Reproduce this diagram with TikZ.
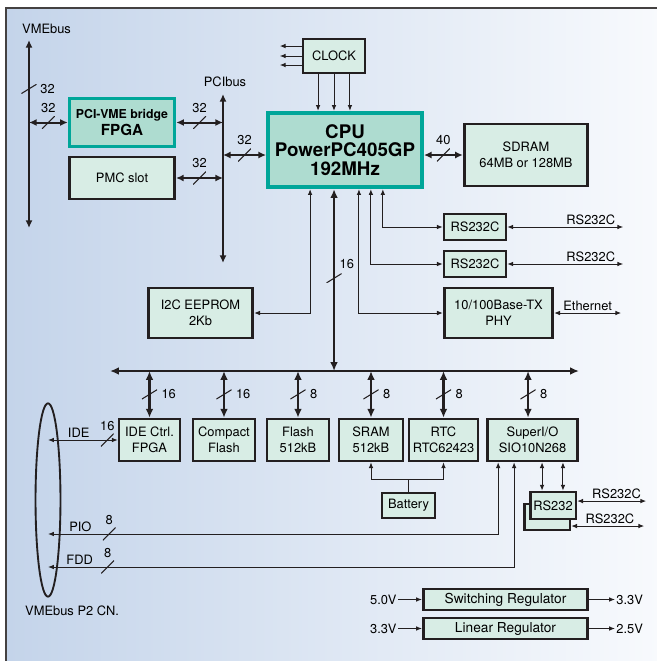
\documentclass[tikz,border=0pt]{standalone}
\usepackage{fontspec}
\setmainfont{TeX Gyre Heros}
\usetikzlibrary{positioning,arrows.meta,shapes.geometric}

\definecolor{ink}{RGB}{35,31,32}
\definecolor{tealline}{RGB}{0,166,153}
\definecolor{chipfill}{RGB}{174,220,208}
\definecolor{boxfill}{RGB}{216,237,229}
\definecolor{bgleft}{RGB}{196,212,234}
\definecolor{bgright}{RGB}{248,250,253}

\tikzstyle{block} = [draw=ink, line width=2.3pt, fill=boxfill, rectangle, inner sep=1pt, align=center]
\tikzstyle{chip} = [block, draw=tealline, fill=chipfill]
\tikzstyle{bus} = [draw=ink, line width=2.3pt, >={Latex[length=7.5pt,width=6.5pt]}]
\tikzstyle{link} = [draw=ink, line width=1.7pt, >={Latex[length=6.5pt,width=6pt]}]
\tikzstyle{wire} = [draw=ink, line width=0.85pt, >={Latex[length=5pt,width=4pt]}]
\tikzstyle{hslash} = [inner sep=0pt, minimum width=11pt, minimum height=11pt, path picture={\draw[-, ink, line width=0.9pt] (path picture bounding box.south west) -- (path picture bounding box.north east);}]
\tikzstyle{vslash} = [hslash, minimum width=13pt, minimum height=8pt]
\tikzstyle{lbl} = [inner sep=1.5pt]

\begin{document}
\begin{tikzpicture}[x=0.03cm, y=-0.03cm, every node/.style={font=\fontsize{11}{13.3}\selectfont}]
        \clip (0,0) rectangle (657,661);
        \fill[white] (0,0) rectangle (657,661);
        \shade[left color=bgleft, right color=bgright] (6,8) rectangle (660,665);
        \draw[draw=ink!85, line width=2.4pt] (6,670) -- (6,8) -- (670,8);

        % bus ends
        \coordinate (vmetop) at (29,40);
        \coordinate (vmebot) at (29,228);
        \coordinate (pcitop) at (223,94);
        \coordinate (pcibot) at (223,263);
        \coordinate (lbusl) at (110,371);
        \coordinate (lbusr) at (579,371);
        \coordinate (pio) at (48,534);
        \coordinate (fdd) at (48,567);

        \node [anchor=base west, inner sep=0pt] (vmelbl) at (22,33) {VMEbus};
        \node [anchor=base, inner sep=0pt] (pcilbl) at (225,86) {PCIbus};

        % upper blocks
        \node [block, minimum width=52.7pt, minimum height=29pt] (clock) at (334,56) {CLOCK};
        \node [chip, line width=3.8pt, minimum width=131pt, minimum height=63pt, font=\fontsize{16}{15.7}\selectfont\bfseries] (cpu) at (345,150) {CPU\\PowerPC405GP\\192MHz};
        \node [block, minimum width=105.5pt, minimum height=52.7pt] (sdram) at (526,155) {SDRAM\\64MB or 128MB};
        \node [chip, line width=2.6pt, minimum width=90pt, minimum height=41.7pt, font=\fontsize{10.5}{14.5}\selectfont\bfseries] (bridge) at (122,122.5) {PCI-VME bridge\\{\fontsize{13}{14.5}\selectfont FPGA}};
        \node [block, minimum width=90pt, minimum height=35.7pt] (pmc) at (122,178) {PMC slot};
        \node [block, minimum width=52.7pt, minimum height=22pt] (uart1) at (475,227) {RS232C};
        \node [block, minimum width=52.7pt, minimum height=22pt] (uart2) at (475,264) {RS232C};
        \node [block, minimum width=92.7pt, minimum height=42.5pt] (phy) at (498.5,313) {10/100Base-TX\\PHY};
        \node [block, minimum width=89.3pt, minimum height=42.5pt] (eeprom) at (200.5,313) {I2C EEPROM\\2Kb};

        % lower blocks
        \node [block, minimum width=51.9pt, minimum height=35.7pt] (ide) at (149.5,440) {IDE Ctrl.\\FPGA};
        \node [block, minimum width=52.7pt, minimum height=35.7pt] (cf) at (224,440) {Compact\\Flash};
        \node [block, minimum width=52.7pt, minimum height=35.7pt] (flash) at (298,440) {Flash\\512kB};
        \node [block, minimum width=54.4pt, minimum height=35.7pt] (sram) at (371,440) {SRAM\\512kB};
        \node [block, minimum width=58.7pt, minimum height=35.7pt] (rtc) at (443.5,440) {RTC\\RTC62423};
        \node [block, minimum width=77.4pt, minimum height=35.7pt] (sio) at (532.5,440) {SuperI/O\\SIO10N268};
        \node [block, minimum width=45pt, minimum height=21.3pt] (battery) at (408.5,505.5) {Battery};
        \node [block, minimum width=39pt, minimum height=22pt] (com2) at (547,517) {};
        \node [block, minimum width=39pt, minimum height=23pt] (com1) at (553,505.5) {RS232};
        \node [draw=ink, line width=1.6pt, ellipse, minimum width=21.3pt, minimum height=165pt, inner sep=0pt] (p2) at (48,500) {};
        \node [anchor=base west, inner sep=0pt] (p2lbl) at (25,615) {VMEbus P2 CN.};

        % regulators
        \node [block, minimum width=140.3pt, minimum height=17.9pt, inner sep=0pt, font=\fontsize{11.7}{13}\selectfont] (swreg) at (505.5,599.5) {Switching Regulator};
        \node [block, minimum width=140.3pt, minimum height=17.9pt, inner sep=0pt, font=\fontsize{11.7}{13}\selectfont] (linreg) at (505.5,628.5) {Linear Regulator};
        \node [anchor=east, inner sep=1pt] (vin1) at (398,599.5) {5.0V};
        \node [anchor=west, inner sep=1pt] (vout1) at (615,599.5) {3.3V};
        \node [anchor=east, inner sep=1pt] (vin2) at (398,628.5) {3.3V};
        \node [anchor=west, inner sep=1pt] (vout2) at (615,628.5) {2.5V};

        % VME and PCI side
        \draw[link,<->] (vmetop) -- node[pos=0.26, vslash, label={[lbl]right:32}] {} (vmebot);
        \draw[link,<->] (pcitop) -- (pcibot);
        \draw[link,<->] (vmetop |- bridge.west) -- node[hslash, label={[lbl]above:32}] {} (bridge.west);
        \draw[link,<->] (bridge.east) -- node[hslash, label={[lbl]above:32}] {} (pcitop |- bridge.east);
        \draw[link,<->] (pmc.east) -- node[hslash, label={[lbl]above:32}] {} (pcitop |- pmc.east);
        \draw[link,<->] (pcitop |- sdram.west) -- node[hslash, label={[lbl]above:32}] {} (cpu.west |- sdram.west);
        \draw[link,<->] (cpu.east |- sdram.west) -- node[hslash, label={[lbl]above:40}] {} (sdram.west);

        % clock
        \coordinate (clk1) at ([xshift=-13.6pt]clock.south);
        \coordinate (clk3) at ([xshift=13.6pt]clock.south);
        \draw[wire,->] ([yshift=8.5pt]clock.west) -- ++(-22,0);
        \draw[wire,->] (clock.west) -- ++(-22,0);
        \draw[wire,->] ([yshift=-7.7pt]clock.west) -- ++(-22,0);
        \draw[wire,->] (clk1) -- (clk1 |- cpu.north);
        \draw[wire,->] (clock.south) -- (clock.south |- cpu.north);
        \draw[wire,->] (clk3) -- (clk3 |- cpu.north);

        % local devices of the CPU
        \draw[wire,<->] (eeprom.east) -| ([xshift=-29.8pt]cpu.south);
        \draw[wire,<->] ([xshift=11.9pt]cpu.south) |- (phy.west);
        \draw[wire,<->] ([xshift=22.1pt]cpu.south) |- (uart2.west);
        \draw[wire,<->] ([xshift=32.3pt]cpu.south) |- (uart1.west);
        \draw[wire,<->] (uart1.east) -- node[pos=0.72, above, lbl] (ext1) {RS232C} ++(116,0);
        \draw[wire,<->] (uart2.east) -- node[pos=0.72, above, lbl] (ext2) {RS232C} ++(116,0);
        \draw[wire,<->] (phy.east) -- node[pos=0.5, above, lbl] (eth) {Ethernet} ++(67,0);

        % local bus
        \coordinate (busdrop) at ([xshift=-9.35pt]cpu.south);
        \coordinate (siotop) at ([xshift=-3.8pt]sio.north);
        \draw[bus,<->] (busdrop) -- node[pos=0.49, vslash, label={[lbl, xshift=-3pt]above right:16}] {} (busdrop |- lbusl);
        \draw[bus,<->] (lbusl) -- (lbusr);
        \draw[bus,<->] (ide.north |- lbusl) -- node[vslash, label={[lbl]right:16}] {} (ide.north);
        \draw[bus,<->] (cf.north |- lbusl) -- node[vslash, label={[lbl]right:16}] {} (cf.north);
        \draw[bus,<->] (flash.north |- lbusl) -- node[vslash, label={[lbl]right:8}] {} (flash.north);
        \draw[bus,<->] (sram.north |- lbusl) -- node[vslash, label={[lbl]right:8}] {} (sram.north);
        \draw[bus,<->] (rtc.north |- lbusl) -- node[vslash, label={[lbl]right:8}] {} (rtc.north);
        \draw[bus,<->] (siotop |- lbusl) -- node[vslash, label={[lbl]right:8}] {} (siotop);

        % battery
        \draw[wire,->] (battery.north) -- ++(0,-12) -| (sram.south);
        \draw[wire,->] (battery.north) -- ++(0,-12) -| (rtc.south);

        % Super I/O and P2 connector
        \coordinate (piotap) at ([xshift=-29.3pt]sio.south);
        \coordinate (fddtap) at ([xshift=-15.7pt]sio.south);
        \coordinate (com1a) at ([xshift=-9.35pt]com1.north);
        \coordinate (com1b) at ([xshift=8.5pt]com1.north);
        \draw[wire,<->] (p2.center |- ide.west) -- node[pos=0.85, hslash, label={[lbl]above:16}] {} node[pos=0.44, above, lbl] (idelbl) {IDE} (ide.west);
        \draw[wire,<->] (pio) -| node[pos=0.068, hslash, label={[lbl]above:8}] {} node[pos=0.036, above, lbl] (piolbl) {PIO} (piotap);
        \draw[wire,<->] (fdd) -| node[pos=0.064, hslash, label={[lbl]above:8}] {} node[pos=0.034, above, lbl] (fddlbl) {FDD} (fddtap);
        \draw[wire,<->] (com1a |- sio.south) -- (com1a);
        \draw[wire,<->] (com1b |- sio.south) -- (com1b);
        \draw[wire,<->] ([yshift=3.8pt]com1.east) -- node[pos=0.57, above, lbl] (ext3) {RS232C} ++(69,0);
        \draw[wire,<->] ([yshift=-7.7pt]com2.east) -- node[pos=0.53, above, lbl] (ext4) {RS232C} ++(73,0);

        % regulators
        \draw[wire,->] (vin1) -- (swreg);
        \draw[wire,->] (swreg) -- (vout1);
        \draw[wire,->] (vin2) -- (linreg);
        \draw[wire,->] (linreg) -- (vout2);
    \end{tikzpicture}
\end{document}
